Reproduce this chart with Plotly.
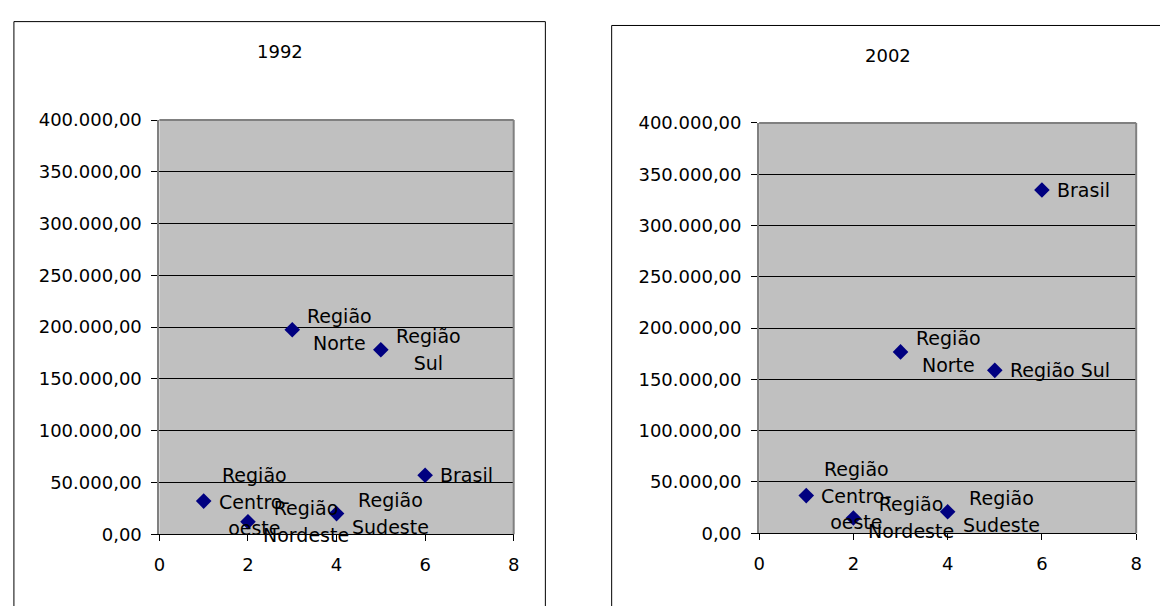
import plotly.graph_objects as go

# ---- data ----
x_pos = [1, 2, 3, 4, 5, 6]
labels_1992 = ["Região<br>Centro-<br>oeste", "Região<br>Nordeste", "Região<br>Norte",
               "Região<br>Sudeste", "Região<br>Sul", "Brasil"]
values_1992 = [32000, 12000, 197500, 19900, 178100, 57000]
labels_2002 = ["Região<br>Centro-<br>oeste", "Região<br>Nordeste", "Região<br>Norte",
               "Região<br>Sudeste", "Região Sul", "Brasil"]
values_2002 = [36700, 14900, 176800, 20900, 158800, 334600]
titles = ["1992", "2002"]
x_ticks = [0, 2, 4, 6, 8]

W, H = 1160, 606
FAMILY = "DejaVu Sans, Arial, sans-serif"
FONT = dict(family=FAMILY, size=18, color="black")
LABEL_BOX_FONT = dict(family=FAMILY, size=20.5, color="black")  # sets line spacing
LABEL_SIZE = 19
MARKER_COLOR = "#000080"

fig = go.Figure()

panels = [
    dict(xs="x", ys="y", xa="xaxis", ya="yaxis", plot=(155, 513, 113, 542),
         box=(8, 545, 11), title_y=42, labels=labels_1992, values=values_1992, title=titles[0]),
    dict(xs="x2", ys="y2", xa="xaxis2", ya="yaxis2", plot=(761, 1142, 116, 541),
         box=(612, 1220, 15), title_y=46, labels=labels_2002, values=values_2002, title=titles[1]),
]

shapes = []
annotations = []
for p in panels:
    fig.add_trace(go.Scatter(
        x=x_pos, y=p["values"], mode="markers", xaxis=p["xs"], yaxis=p["ys"],
        marker=dict(symbol="diamond", size=12, color=MARKER_COLOR, line=dict(width=0)),
        hoverinfo="skip", showlegend=False))
    l, r, t, b = p["plot"]
    fig.update_layout({
        p["xa"]: dict(domain=[l / W, r / W], anchor=p["ys"], range=[0, 8], tickvals=x_ticks,
                      showgrid=False, zeroline=False, showline=True, linecolor="black",
                      linewidth=1, ticks="outside", ticklen=6, tickcolor="black",
                      ticklabelstandoff=8, tickfont=FONT, fixedrange=True),
        p["ya"]: dict(domain=[1 - b / H, 1 - t / H], anchor=p["xs"], range=[0, 400000],
                      dtick=50000, tick0=0, tickformat=",.2f", showgrid=True,
                      gridcolor="black", gridwidth=1, zeroline=False, showline=True,
                      linecolor="#808080", linewidth=2, ticks="outside", ticklen=6,
                      tickcolor="black", ticklabelstandoff=6, tickfont=FONT, fixedrange=True),
    })
    xd, yd = p["xs"] + " domain", p["ys"] + " domain"
    shapes.append(dict(type="line", xref=xd, yref=yd, x0=0, x1=1, y0=1, y1=1,
                       line=dict(color="#808080", width=2), layer="above"))
    shapes.append(dict(type="line", xref=xd, yref=yd, x0=1, x1=1, y0=0, y1=1,
                       line=dict(color="#808080", width=2), layer="above"))
    bl, br, bt = p["box"]
    shapes.append(dict(type="rect", xref="paper", yref="paper", x0=bl / W, x1=br / W,
                       y0=-0.1, y1=1 - bt / H, line=dict(color="black", width=1),
                       fillcolor="rgba(0,0,0,0)", layer="below"))
    annotations.append(dict(text=p["title"], xref="paper", yref="paper",
                            x=(bl + min(br, 1170)) / 2 / W, y=1 - p["title_y"] / H,
                            xanchor="center", yanchor="middle", showarrow=False, font=FONT))
    for xv, yv, lab in zip(x_pos, p["values"], p["labels"]):
        txt = "<br>".join(f"<span style='font-size:{LABEL_SIZE}px'>{ln}</span>"
                          for ln in lab.split("<br>"))
        annotations.append(dict(text=txt, x=xv, y=yv, xref=p["xs"], yref=p["ys"],
                                xanchor="left", yanchor="middle", xshift=13, align="center",
                                showarrow=False, font=LABEL_BOX_FONT))

fig.update_layout(width=W, height=H, margin=dict(l=0, r=0, t=0, b=0),
                  paper_bgcolor="white", plot_bgcolor="#C0C0C0", separators=",.",
                  shapes=shapes, annotations=annotations, showlegend=False)

fig.write_html("out.html", config={"displayModeBar": False, "staticPlot": True},
               post_script="document.body.style.margin='0px';document.body.style.overflow='hidden';")
